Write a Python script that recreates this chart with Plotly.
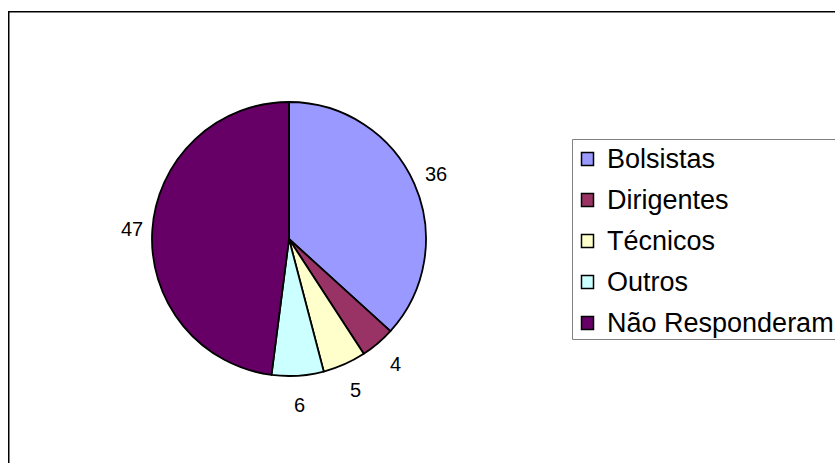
import math
import plotly.graph_objects as go

# ---- data ----
categories = ["Bolsistas", "Dirigentes", "Técnicos", "Outros", "Não Responderam"]
values = [36, 4, 5, 6, 47]
colors = ["#9999FF", "#993366", "#FFFFCC", "#CCFFFF", "#660066"]

W, H = 835, 463
OFF = 0  # page body margin removed in post_script
CX, CY, R = 289, 239, 137
FONT = "Liberation Sans, Arial, sans-serif"


def px(x):
    return (x - OFF) / W


def py(y):
    return 1 - (y - OFF) / H


fig = go.Figure()
fig.add_trace(go.Pie(
    labels=categories,
    values=values,
    sort=False,
    direction="clockwise",
    rotation=0,
    textinfo="none",
    marker=dict(colors=colors, line=dict(color="#000000", width=1.8)),
    domain=dict(x=[px(CX - R), px(CX + R)], y=[py(CY + R), py(CY - R)]),
    showlegend=False,
    hoverinfo="label+value",
))

annotations = []
shapes = []

# value labels outside the slices, placed from the cumulative values
total = sum(values)
cum = 0
for v in values:
    mid = (cum + v / 2) / total * 2 * math.pi
    cum += v
    ux, uy = math.sin(mid), -math.cos(mid)
    rc = 157 + 9 * abs(uy)
    annotations.append(dict(
        x=px(CX + rc * ux), y=py(CY + rc * uy), xref="paper", yref="paper",
        text=str(v), showarrow=False, xanchor="center", yanchor="middle",
        font=dict(family=FONT, size=20, color="#000000"),
    ))

# outer chart border
shapes.append(dict(type="rect", xref="paper", yref="paper",
                   x0=px(8.75), y0=py(11.75), x1=px(W + 20), y1=py(H + 20),
                   line=dict(color="#000000", width=1.5), fillcolor="rgba(0,0,0,0)"))

# legend box
shapes.append(dict(type="rect", xref="paper", yref="paper",
                   x0=px(572.5), y0=py(139.5), x1=px(W + 20), y1=py(339.5),
                   line=dict(color="#808080", width=1), fillcolor="rgba(0,0,0,0)"))

for i, (c, col) in enumerate(zip(categories, colors)):
    yc = 159 + 41 * i
    shapes.append(dict(type="rect", xref="paper", yref="paper",
                       x0=px(581.5), y0=py(yc - 6.5), x1=px(593.5), y1=py(yc + 6.5),
                       line=dict(color="#000000", width=1.5), fillcolor=col))
    annotations.append(dict(
        x=px(605), y=py(yc), xref="paper", yref="paper",
        text=c, showarrow=False, xanchor="left", yanchor="middle",
        font=dict(family=FONT, size=27, color="#000000"),
    ))

fig.update_layout(
    width=W, height=H,
    margin=dict(l=0, r=0, t=0, b=0),
    paper_bgcolor="#FFFFFF",
    plot_bgcolor="#FFFFFF",
    shapes=shapes,
    annotations=annotations,
)

fig.write_html(
    "out.html",
    config={"displayModeBar": False},
    post_script="document.body.style.margin='0';document.body.style.overflow='hidden';",
)
